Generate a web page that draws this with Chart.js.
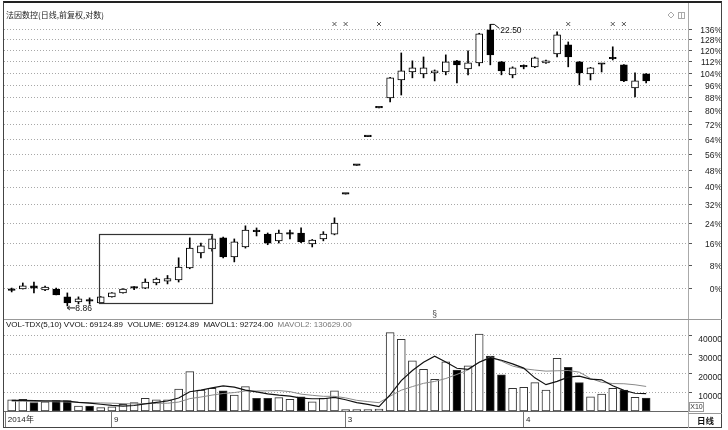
<!DOCTYPE html>
<html lang="zh-CN">
<head>
<meta charset="utf-8">
<title>法因数控 日线</title>
<script src="https://cdn.jsdelivr.net/npm/chart.js@4.4.1/dist/chart.umd.min.js"></script>
<style>
  html, body { margin: 0; padding: 0; background: #fff; }
  #wrap { position: relative; width: 728px; height: 430px; overflow: hidden; background: #fff;
          font-family: 'Liberation Sans', Arial, sans-serif; }
  canvas { position: absolute; left: 0; }
  #priceCanvas { top: 0; }
  #volCanvas { top: 319px; }
  .rule { position: absolute; pointer-events: none; }
  #frame { left: 3px; top: 1px; width: 719px; height: 427px; box-sizing: border-box;
           border: 1px solid #444; border-top: 2px solid #222; }
  #vsep { left: 688px; top: 3px; width: 1px; height: 425px; background: #aaa; }
  #hsep { left: 4px; top: 319px; width: 718px; height: 1px; background: #999; }
  #rsep { left: 688px; top: 413px; width: 34px; height: 1px; background: #999; }
  #title { position: absolute; left: 6px; top: 9px; line-height: 12px; font-size: 8px; color: #222;
           font-family: 'Noto Sans CJK SC', sans-serif; white-space: nowrap; }
  #volLegend { position: absolute; left: 6px; top: 320px; line-height: 10px; font-size: 8px; color: #111;
               white-space: pre; }
  #volLegend .g { color: #777; }
  #x10 { position: absolute; left: 689px; top: 402px; width: 15px; height: 10px; box-sizing: border-box;
         border: 1px solid #999; font-size: 7px; line-height: 8px; text-align: center; color: #333; }
  #dayTag { position: absolute; left: 697px; top: 414px; line-height: 13px; font-size: 8.5px; font-weight: bold;
            font-family: 'Noto Sans CJK SC', sans-serif; color: #111; }
</style>
</head>
<body>
<div id="wrap">
  <canvas id="priceCanvas" width="728" height="319"></canvas>
  <canvas id="volCanvas" width="728" height="111"></canvas>
  <div class="rule" id="frame"></div>
  <div class="rule" id="vsep"></div>
  <div class="rule" id="hsep"></div>
  <div class="rule" id="rsep"></div>
  <div id="title">法因数控(日线,前复权,对数)</div>
  <div id="volLegend"></div>
  <div id="x10">X10</div>
  <div id="dayTag">日线</div>
</div>
<script>
'use strict';

// ── Data ────────────────────────────────────────────────────────────────────

const BASE_PRICE = 9.38;   // price that the log axis shows as 0%
const pctTicks = [0, 8, 16, 24, 32, 40, 48, 56, 64, 72, 80, 88, 96, 104, 112, 120, 128, 136];

const opens = [
  9.33, 9.37, 9.47, 9.34, 9.37, 9.13, 8.98, 9.04, 8.95, 9.13,
  9.25, 9.40, 9.40, 9.56, 9.62, 9.66, 10.05, 10.56, 10.70, 11.10,
  10.42, 10.77, 11.36, 11.24, 10.99, 11.24, 11.28, 10.88, 11.06, 11.24,
  12.83, 14.11, 15.52, 17.07, 17.64, 18.72, 19.22, 19.10, 19.16, 19.22,
  19.94, 19.42, 19.81, 22.09, 19.87, 19.04, 19.55, 19.55, 19.81, 20.41,
  21.02, 19.87, 19.10, 19.72, 20.08, 19.68, 18.23, 19.10
];
const highs = [
  9.40, 9.56, 9.59, 9.46, 9.40, 9.25, 9.13, 9.10, 9.14, 9.26,
  9.38, 9.45, 9.69, 9.72, 9.80, 10.39, 11.10, 10.91, 11.17, 11.13,
  11.06, 11.55, 11.47, 11.28, 11.39, 11.39, 11.47, 11.04, 11.33, 11.86,
  12.83, 14.11, 15.52, 17.07, 18.88, 20.47, 19.94, 20.20, 19.35, 20.34,
  19.97, 20.61, 21.85, 22.50, 19.90, 19.55, 19.68, 20.20, 20.00, 21.95,
  21.23, 19.90, 19.52, 19.75, 20.89, 19.70, 19.16, 19.12
];
const lows = [
  9.28, 9.37, 9.25, 9.32, 9.19, 8.86, 8.92, 8.91, 8.94, 9.12,
  9.24, 9.35, 9.38, 9.50, 9.53, 9.59, 10.02, 10.39, 10.62, 10.39,
  10.25, 10.73, 11.17, 10.85, 10.91, 11.06, 10.92, 10.77, 10.99, 11.21,
  12.83, 14.11, 15.52, 17.07, 17.41, 17.81, 18.85, 18.85, 18.66, 19.04,
  18.54, 19.04, 19.61, 19.68, 19.04, 18.85, 19.42, 19.50, 19.77, 20.20,
  19.55, 18.42, 18.72, 19.22, 20.00, 18.62, 17.70, 18.54
];
const closes = [
  9.34, 9.47, 9.40, 9.43, 9.19, 8.95, 9.07, 9.00, 9.13, 9.25,
  9.37, 9.41, 9.59, 9.68, 9.70, 10.08, 10.73, 10.81, 11.06, 10.42,
  10.95, 11.39, 11.33, 10.91, 11.28, 11.26, 10.95, 11.02, 11.24, 11.66,
  12.83, 14.11, 15.52, 17.07, 18.85, 19.29, 19.48, 19.48, 19.29, 19.87,
  19.68, 19.81, 21.80, 20.34, 19.29, 19.48, 19.57, 20.14, 19.94, 21.73,
  20.20, 19.16, 19.48, 19.75, 20.12, 18.66, 18.66, 18.66
];

const volumes = [
  5880, 6170, 4450, 4830, 5500, 5500, 2630, 2630, 1770, 2250,
  3590, 4450, 6740, 5880, 5880, 11720, 20910, 11150, 12010, 10760,
  8470, 12960, 6740, 6740, 7130, 6170, 7600, 4920, 6740, 10670,
  500, 500, 500, 1000, 41670, 38130, 26740, 22150, 16890, 26170,
  21770, 23970, 40910, 29230, 19180, 12100, 12580, 15070, 11150, 27990,
  23200, 15070, 7600, 9040, 12100, 11150, 7320, 6912
];
const mavol1 = [
  5600, 5700, 5500, 5400, 5365, 5290, 4580, 4220, 3600, 2950,
  2570, 2930, 3760, 4580, 5310, 6935, 10230, 11110, 12330, 13310,
  12660, 11070, 10190, 9140, 8410, 7950, 6880, 6510, 6510, 7220,
  5990, 4480, 3510, 2340, 8540, 16160, 21500, 25920, 29120, 26020,
  22750, 22190, 25940, 28410, 27010, 25080, 22800, 17630, 14020, 15780,
  18000, 18500, 17000, 16580, 13400, 10990, 9440, 9272
];
const mavol2 = [
  5200, 5200, 5100, 5000, 4900, 4800, 4600, 4400, 4300, 4160,
  3930, 3760, 3990, 4090, 4130, 4750, 6580, 7430, 8460, 9310,
  9800, 10650, 10650, 10730, 10860, 10300, 8970, 8350, 7820, 7810,
  6970, 5680, 5010, 4430, 7880, 11080, 12990, 14720, 15730, 17280,
  19450, 21850, 25930, 28760, 26510, 23910, 22500, 21790, 21210, 21400,
  21540, 20650, 17320, 15300, 14590, 14500, 13940, 13063
];
const volTicks = [10000, 20000, 30000, 40000];
const volLegendText = 'VOL-TDX(5,10) VVOL: 69124.89  VOLUME: 69124.89  MAVOL1: 92724.00  ';
const volLegendText2 = 'MAVOL2: 130629.00';

const monthPos  = [-0.55, 9, 30, 46];
const monthText = ['2014年', '9', '3', '4'];

const infoMarks = [29, 30, 33, 50, 54, 55];   // candles flagged with × along the top
const sectionMark = 38;                        // candle with the § sign at the panel foot
const lowIdx = 5, highIdx = 43;
const boxIdx = [7.88, 18];                     // framed zone: candles
const boxPrice = [8.94, 11.24];                //              price range

// ── Scale ranges ────────────────────────────────────────────────────────────

const X_MIN = -0.69, X_MAX = 60.76;
const P_MIN = 8.485, P_MAX = 24.15;
const V_MAX = 48940;

Chart.defaults.font.family = "'Liberation Sans', Arial, sans-serif";
Chart.defaults.font.size = 8.5;
Chart.defaults.color = '#222';

// ── Helpers ─────────────────────────────────────────────────────────────────

const idx = opens.map((_, i) => i);
const isDoji = i => Math.abs(closes[i] - opens[i]) / opens[i] < 0.004;
const candleFill = i => (closes[i] >= opens[i] ? '#ffffff' : '#000000');
const bodyFill = i => (isDoji(i) ? '#000000' : candleFill(i));

function rightAxis(extra) {
  return Object.assign({
    position: 'right',
    afterFit: s => { s.width = 34; s.paddingTop = 0; s.paddingBottom = 0; },
    grid: { color: '#a8a8a8', tickLength: 4, tickColor: '#555' },
    border: { display: false, dash: [1, 2] },
  }, extra);
}

const baseOpts = {
  responsive: false,
  animation: false,
  events: [],
  plugins: { legend: { display: false }, tooltip: { enabled: false } },
};

// ── Price panel ─────────────────────────────────────────────────────────────

const priceNotes = {
  id: 'priceNotes',
  afterDatasetsDraw(chart) {
    const { ctx, chartArea, scales: { x, y } } = chart;
    const px = v => x.getPixelForValue(v);
    const py = v => y.getPixelForValue(v);
    ctx.save();

    // frame round the September run-up
    const l = Math.round(px(boxIdx[0])) + 0.5, r = Math.round(px(boxIdx[1])) + 0.5;
    const t = Math.round(py(boxPrice[1])) + 0.5, b = Math.round(py(boxPrice[0])) + 0.5;
    ctx.strokeStyle = '#333';
    ctx.lineWidth = 1.2;
    ctx.strokeRect(l, t, r - l, b - t);

    ctx.font = "8.5px 'Liberation Sans', Arial, sans-serif";
    ctx.fillStyle = '#111';
    ctx.strokeStyle = '#111';
    ctx.lineWidth = 1;
    ctx.textBaseline = 'middle';
    ctx.textAlign = 'left';

    // lowest price
    const lx = px(lowIdx), ly = py(lows[lowIdx]) + 2;
    ctx.beginPath();
    ctx.moveTo(lx + 8, ly); ctx.lineTo(lx, ly);
    ctx.moveTo(lx + 2.5, ly - 2); ctx.lineTo(lx, ly); ctx.lineTo(lx + 2.5, ly + 2);
    ctx.stroke();
    ctx.fillText(lows[lowIdx].toFixed(2), lx + 8, ly + 1);

    // highest price
    const hx = px(highIdx), hy = py(highs[highIdx]);
    ctx.beginPath();
    ctx.moveTo(hx, hy); ctx.lineTo(hx + 4, hy); ctx.lineTo(hx + 9, hy + 4);
    ctx.stroke();
    ctx.fillText(highs[highIdx].toFixed(2), hx + 10, hy + 6.5);

    // info markers
    ctx.strokeStyle = '#555';
    infoMarks.forEach(i => {
      const mx = px(i), my = chartArea.top + 21;
      ctx.beginPath();
      ctx.moveTo(mx - 2, my - 2); ctx.lineTo(mx + 2, my + 2);
      ctx.moveTo(mx + 2, my - 2); ctx.lineTo(mx - 2, my + 2);
      ctx.stroke();
    });

    ctx.textAlign = 'center';
    ctx.fillStyle = '#444';
    ctx.fillText('§', px(sectionMark), chartArea.bottom - 4);

    // little window icons top right
    ctx.strokeStyle = '#aaa';
    ctx.beginPath();
    ctx.moveTo(671, 12); ctx.lineTo(674, 15); ctx.lineTo(671, 18); ctx.lineTo(668, 15); ctx.closePath();
    ctx.stroke();
    ctx.strokeRect(678.5, 12.5, 6, 6);
    ctx.beginPath(); ctx.moveTo(681.5, 12.5); ctx.lineTo(681.5, 18.5); ctx.stroke();

    ctx.restore();
  }
};

new Chart(document.getElementById('priceCanvas'), {
  type: 'bar',
  data: {
    datasets: [
      {
        label: 'body',
        data: idx.map(i => ({ x: i, y: [opens[i], closes[i]] })),
        order: 0, grouped: false,
        barThickness: 7, minBarLength: 1.5,
        borderWidth: 1, borderSkipped: false, borderColor: '#000',
        backgroundColor: idx.map(bodyFill)
      },
      {
        label: 'wick',
        data: idx.map(i => ({ x: i, y: [lows[i], highs[i]] })),
        order: 1, grouped: false,
        barThickness: 1, borderWidth: 0, backgroundColor: '#000'
      }
    ]
  },
  options: {
    ...baseOpts,
    layout: { padding: { left: 4, right: 6, top: 3, bottom: 0 } },
    scales: {
      x: { type: 'linear', min: X_MIN, max: X_MAX, offset: false, display: false },
      y: rightAxis({
        type: 'logarithmic', min: P_MIN, max: P_MAX, bounds: 'data',
        afterBuildTicks: s => { s.ticks = pctTicks.map(p => ({ value: BASE_PRICE * (1 + p / 100) })); },
        ticks: {
          autoSkip: false, crossAlign: 'far', padding: 4, labelOffset: 1,
          callback: v => Math.round((v / BASE_PRICE - 1) * 100) + '%'
        }
      })
    }
  },
  plugins: [priceNotes]
});

// ── Volume panel ────────────────────────────────────────────────────────────

const legend = document.getElementById('volLegend');
legend.textContent = volLegendText;
const grey = document.createElement('span');
grey.className = 'g';
grey.textContent = volLegendText2;
legend.appendChild(grey);

new Chart(document.getElementById('volCanvas'), {
  type: 'bar',
  data: {
    datasets: [
      {
        type: 'line', label: 'MAVOL1',
        data: idx.map(i => ({ x: i, y: mavol1[i] })),
        borderColor: '#111', borderWidth: 1.2, pointRadius: 0, order: 0
      },
      {
        type: 'line', label: 'MAVOL2',
        data: idx.map(i => ({ x: i, y: mavol2[i] })),
        borderColor: '#8a8a8a', borderWidth: 1, pointRadius: 0, order: 1
      },
      {
        label: 'VOLUME',
        data: idx.map(i => ({ x: i, y: volumes[i] })),
        order: 2, grouped: false,
        barThickness: 8, minBarLength: 1.5,
        borderWidth: 1, borderSkipped: false, borderColor: '#333',
        backgroundColor: idx.map(candleFill)
      }
    ]
  },
  options: {
    ...baseOpts,
    layout: { padding: { left: 4, right: 6, top: 0, bottom: 2 } },
    scales: {
      x: {
        type: 'linear', min: X_MIN, max: X_MAX, offset: false,
        afterBuildTicks: s => { s.ticks = monthPos.map(v => ({ value: v })); },
        afterFit: s => { s.height = 17; s.paddingLeft = 0; s.paddingRight = 0; },
        grid: { offset: false, drawOnChartArea: false, tickLength: 17, color: '#777', tickColor: '#777' },
        border: { display: true, color: '#666' },
        ticks: {
          autoSkip: false, maxRotation: 0, minRotation: 0, align: 'start', padding: -13.5,
          font: { size: 8 },
          callback: (v, i) => ' ' + monthText[i]
        }
      },
      y: rightAxis({
        min: 0, max: V_MAX,
        afterBuildTicks: s => { s.ticks = volTicks.map(v => ({ value: v })); },
        ticks: { autoSkip: false, crossAlign: 'far', padding: 2.5, labelOffset: 4, callback: v => String(v) }
      })
    }
  }
});
</script>
</body>
</html>
